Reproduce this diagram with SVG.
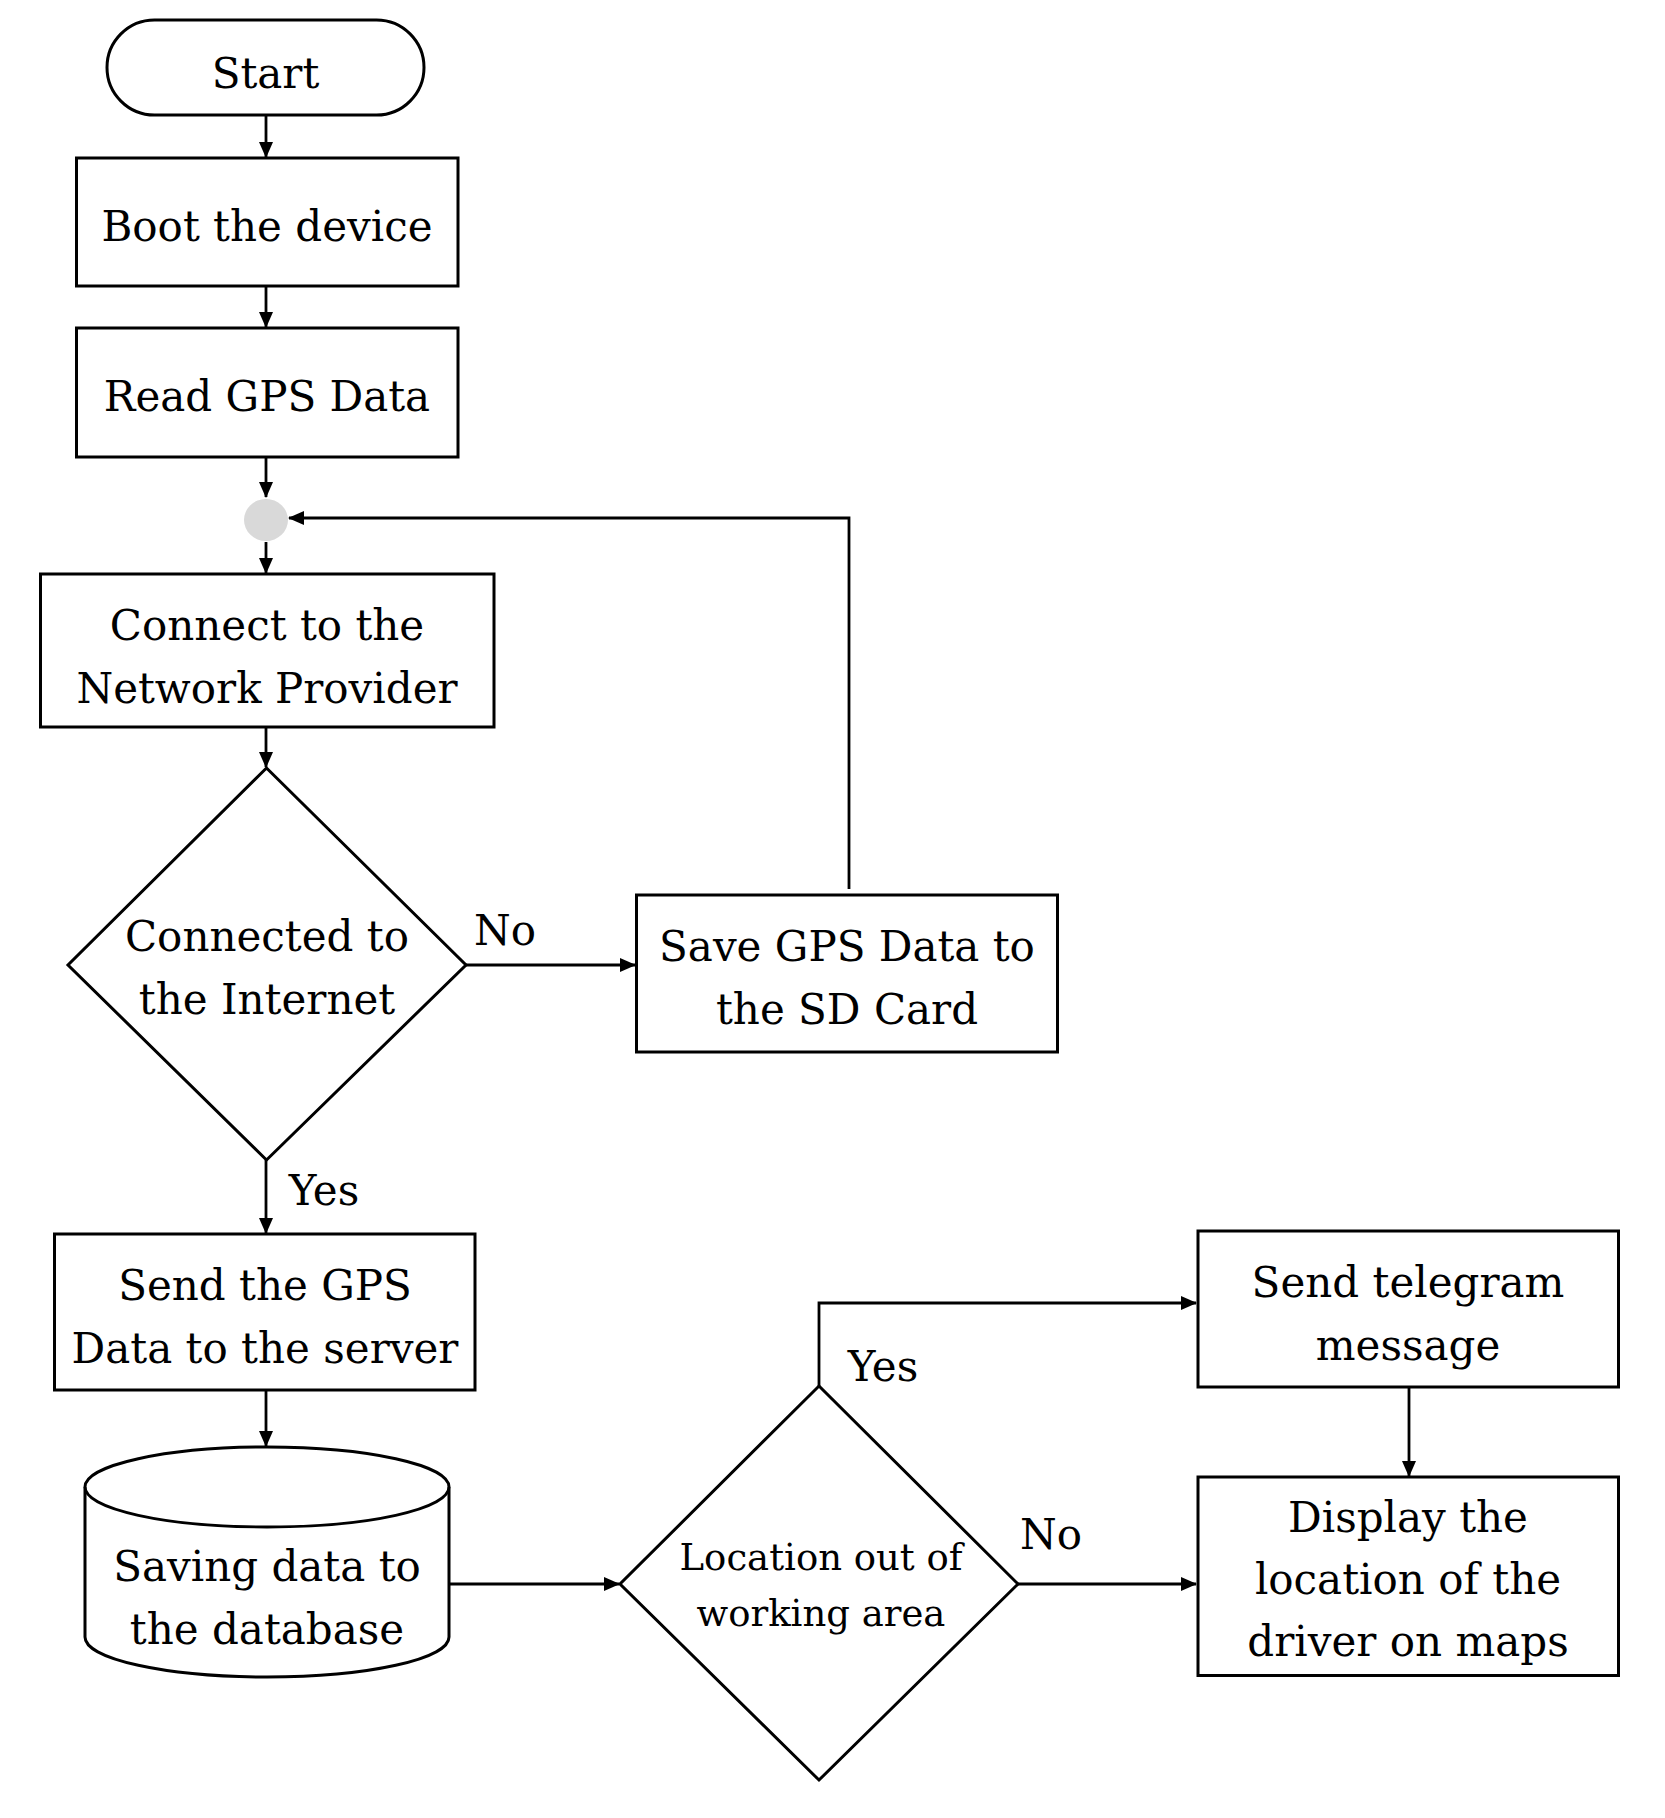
<svg xmlns="http://www.w3.org/2000/svg" width="1665" height="1818" viewBox="0 0 1665 1818">
<style>
.s{fill:#fff;stroke:#000;stroke-width:3}
.t{font-family:"DejaVu Serif","Liberation Serif",serif;font-size:42px;fill:#000;text-anchor:middle}
.c{fill:none;stroke:#000;stroke-width:2.8}
</style>
<defs>
<marker id="a" markerUnits="userSpaceOnUse" markerWidth="16" markerHeight="14" refX="15" refY="7" orient="auto">
<path d="M0,0 L16,7 L0,14 z" fill="#000"/>
</marker>
</defs>
<rect width="1665" height="1818" fill="#fff"/>
<g id="connectors">
<path class="c" d="M266 116 V157" marker-end="url(#a)"/>
<path class="c" d="M266 286 V327" marker-end="url(#a)"/>
<path class="c" d="M266 457 V497" marker-end="url(#a)"/>
<path class="c" d="M266 542 V573" marker-end="url(#a)"/>
<path class="c" d="M266 727 V767" marker-end="url(#a)"/>
<path class="c" d="M466 965 H635" marker-end="url(#a)"/>
<path class="c" d="M849 889 V518 H289" marker-end="url(#a)"/>
<path class="c" d="M266 1160 V1233" marker-end="url(#a)"/>
<path class="c" d="M266 1390 V1446" marker-end="url(#a)"/>
<path class="c" d="M450 1584 H619" marker-end="url(#a)"/>
<path class="c" d="M819 1386 V1303 H1196" marker-end="url(#a)"/>
<path class="c" d="M1409 1387 V1476" marker-end="url(#a)"/>
<path class="c" d="M1018 1584 H1196" marker-end="url(#a)"/>
<text class="t" x="505" y="945">No</text>
<text class="t" x="324" y="1205">Yes</text>
<text class="t" x="883" y="1381">Yes</text>
<text class="t" x="1051" y="1549">No</text>
</g>
<g id="start">
<rect class="s" x="107" y="20" width="317" height="95" rx="47.5"/>
<text class="t" x="265.5" y="88">Start</text>
</g>
<g id="boot">
<rect class="s" x="76.5" y="158" width="381.5" height="128"/>
<text class="t" x="267" y="241">Boot the device</text>
</g>
<g id="read">
<rect class="s" x="76.5" y="328" width="381.5" height="129"/>
<text class="t" x="267" y="411">Read GPS Data</text>
</g>
<g id="junction">
<ellipse cx="266" cy="520" rx="22" ry="21" fill="#d9d9d9"/>
</g>
<g id="connect">
<rect class="s" x="40.5" y="574" width="453.5" height="153"/>
<text class="t" x="267" y="640">Connect to the</text>
<text class="t" x="267" y="703">Network Provider</text>
</g>
<g id="decision1">
<polygon class="s" points="266.5,768 466,965 266.5,1160 68,965"/>
<text class="t" x="267" y="951">Connected to</text>
<text class="t" x="267" y="1014">the Internet</text>
</g>
<g id="save">
<rect class="s" x="636.5" y="895" width="421" height="157"/>
<text class="t" x="847" y="961">Save GPS Data to</text>
<text class="t" x="847" y="1024">the SD Card</text>
</g>
<g id="send">
<rect class="s" x="54.5" y="1234" width="420.5" height="156"/>
<text class="t" x="265" y="1300">Send the GPS</text>
<text class="t" x="265" y="1363">Data to the server</text>
</g>
<g id="database">
<path class="s" d="M85 1487 A182 40 0 0 1 449 1487 V1637 A182 40 0 0 1 85 1637 Z"/>
<path class="c" d="M85 1487 A182 40 0 0 0 449 1487"/>
<text class="t" x="267" y="1581">Saving data to</text>
<text class="t" x="267" y="1644">the database</text>
</g>
<g id="decision2">
<polygon class="s" points="819,1386 1018,1584 819,1780 620,1584"/>
<text class="t" x="821" y="1570" style="font-size:37px">Location out of</text>
<text class="t" x="821" y="1626" style="font-size:37px">working area</text>
</g>
<g id="telegram">
<rect class="s" x="1198" y="1231" width="420.5" height="156"/>
<text class="t" x="1408" y="1297">Send telegram</text>
<text class="t" x="1408" y="1360">message</text>
</g>
<g id="display">
<rect class="s" x="1198" y="1477" width="420.5" height="198.5"/>
<text class="t" x="1408" y="1532">Display the</text>
<text class="t" x="1408" y="1594">location of the</text>
<text class="t" x="1408" y="1656">driver on maps</text>
</g>
</svg>
